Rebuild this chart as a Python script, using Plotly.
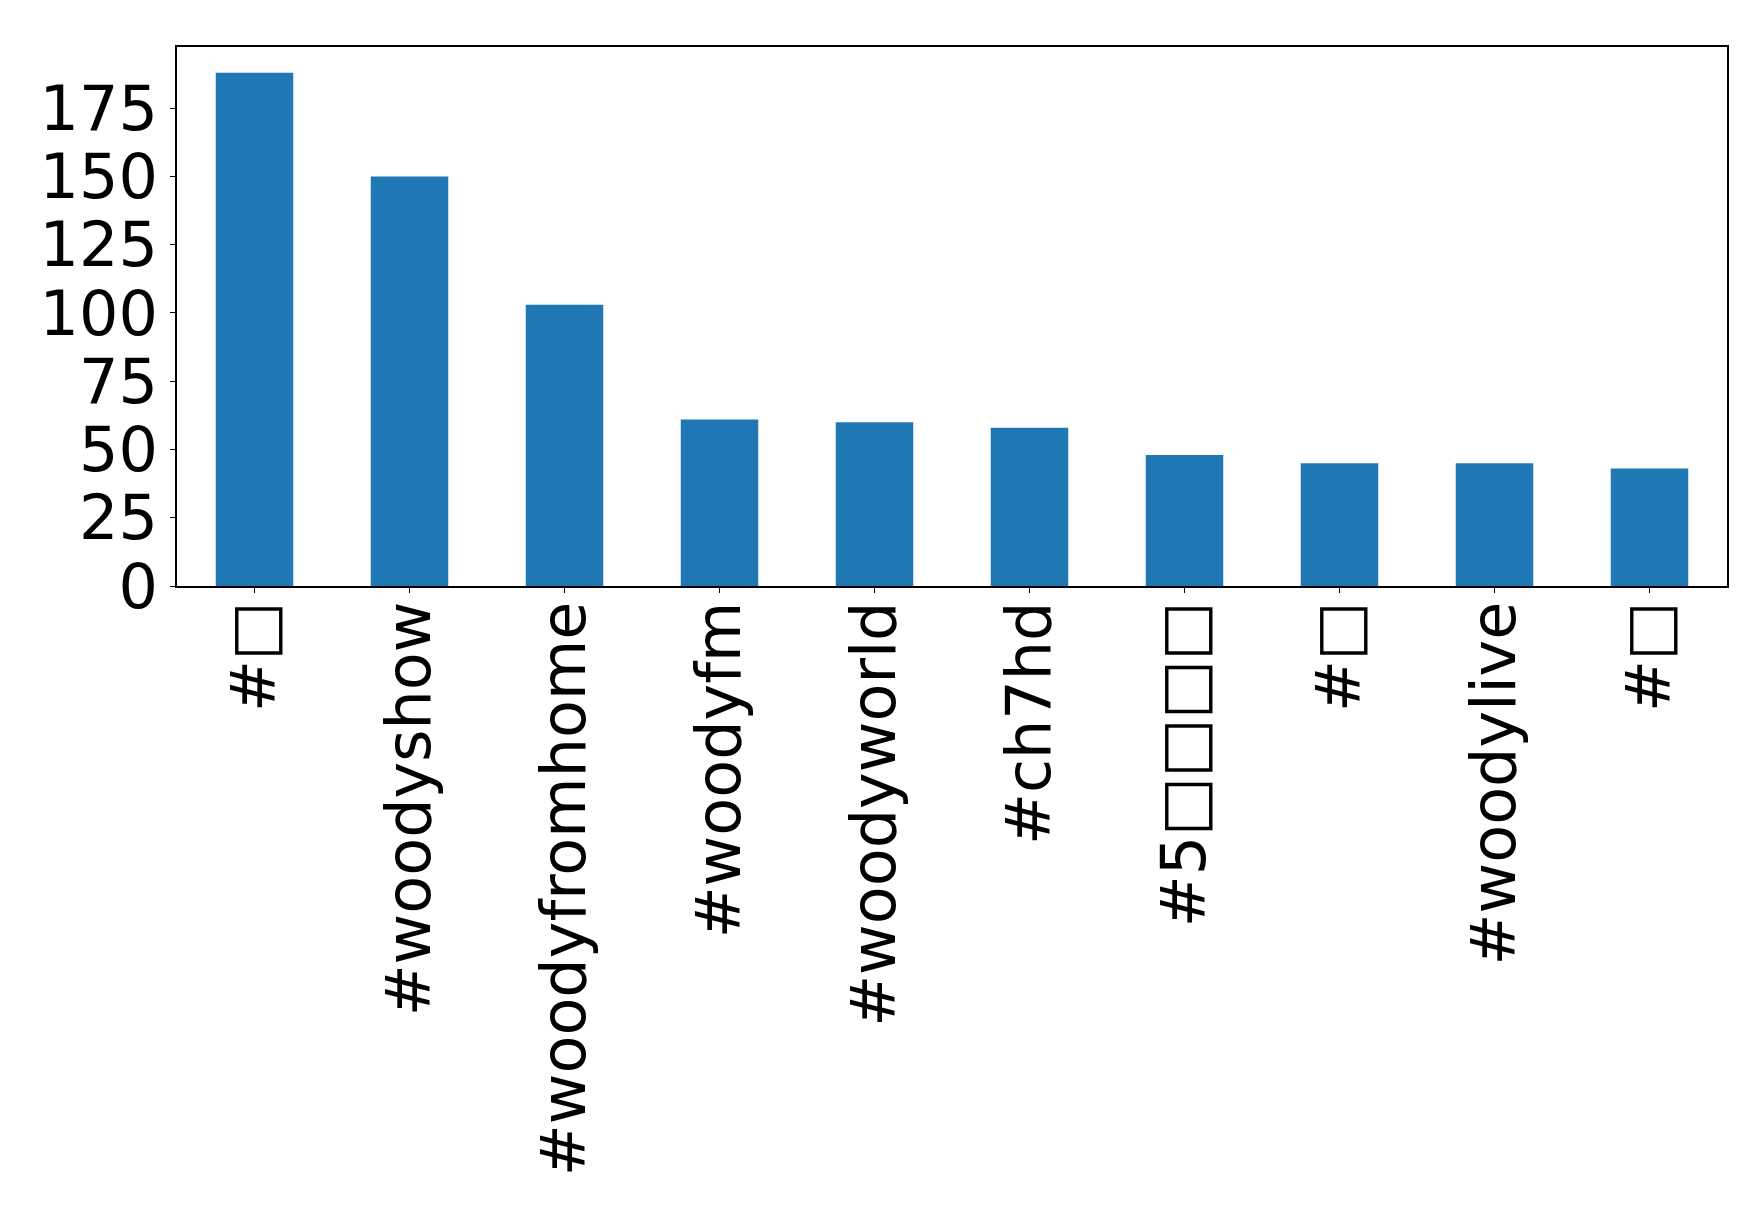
import plotly.graph_objects as go

labels = ["#□", "#woodyshow", "#woodyfromhome", "#woodyfm", "#woodyworld",
          "#ch7hd", "#5□□□□", "#□", "#woodylive", "#□"]
counts = [188, 150, 103, 61, 60, 58, 48, 45, 45, 43]
positions = list(range(len(labels)))
y_ticks = [0, 25, 50, 75, 100, 125, 150, 175]

fig = go.Figure(go.Bar(x=positions, y=counts, width=0.5,
                       marker=dict(color="#1f77b4", line=dict(width=0))))

fig.update_layout(
    width=1758, height=1207,
    margin=dict(l=169, r=39, t=39, b=629, autoexpand=False),
    plot_bgcolor="white", paper_bgcolor="white",
    font=dict(family="DejaVu Sans", size=62, color="black"),
    showlegend=False,
)
fig.update_xaxes(range=[-0.5, 9.5], tickvals=positions, ticktext=labels,
                 tickangle=-90, showline=True, linecolor="black", linewidth=1.5,
                 mirror=True, ticks="outside", ticklen=5, tickcolor="black",
                 showgrid=False, zeroline=False, ticklabelstandoff=-16,
                 automargin=False)
fig.update_yaxes(range=[0, 197.4], tickvals=y_ticks,
                 showline=True, linecolor="black", linewidth=1.5,
                 mirror=True, ticks="outside", ticklen=5, tickcolor="black",
                 showgrid=False, zeroline=False, automargin=False)

fig.write_html("out.html")
